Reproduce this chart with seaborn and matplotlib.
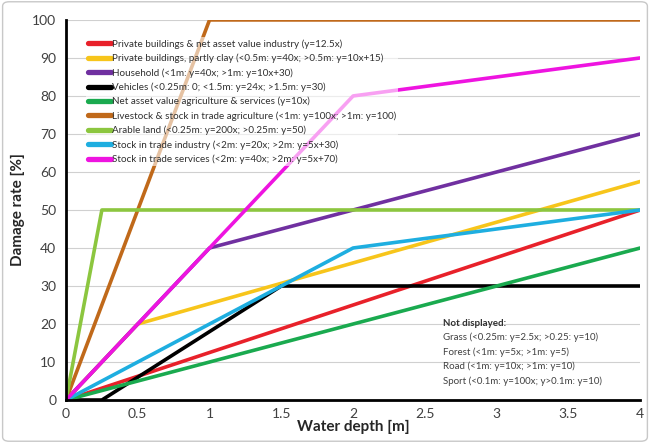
import matplotlib
matplotlib.use("Agg")
import matplotlib.pyplot as plt
import seaborn as sns
import pandas as pd
from matplotlib.patches import FancyBboxPatch

sns.set_theme(style="white")
plt.rcParams['font.family'] = ['Lato', 'DejaVu Sans']

labels = [
    "Private buildings & net asset value industry (y=12.5x)",
    "Private buildings, partly clay (<0.5m: y=40x; >0.5m: y=10x+15)",
    "Household (<1m: y=40x; >1m: y=10x+30)",
    "Vehicles (<0.25m: 0; <1.5m: y=24x; >1.5m: y=30)",
    "Net asset value agriculture & services (y=10x)",
    "Livestock & stock in trade agriculture (<1m: y=100x; >1m: y=100)",
    "Arable land (<0.25m: y=200x; >0.25m: y=50)",
    "Stock in trade industry (<2m: y=20x; >2m: y=5x+30)",
    "Stock in trade services (<2m: y=40x; >2m: y=5x+70)",
]
colors = ["#e8212a", "#f7c51b", "#7030a0", "#000000", "#1aaa4f",
          "#c0691a", "#8cc63f", "#1eaee0", "#ee14e0"]

x_private = [0, 4]
y_private = [0, 50]
x_clay = [0, 0.5, 4]
y_clay = [0, 20, 57.5]
x_household = [0, 1, 4]
y_household = [0, 40, 70]
x_vehicles = [0, 0.25, 1.5, 4]
y_vehicles = [0, 0, 30, 30]
x_agri = [0, 4]
y_agri = [0, 40]
x_livestock = [0, 1, 4]
y_livestock = [0, 100, 100]
x_arable = [0, 0.25, 4]
y_arable = [0, 50, 50]
x_industry = [0, 2, 4]
y_industry = [0, 40, 50]
x_services = [0, 2, 4]
y_services = [0, 80, 90]

xs = [x_private, x_clay, x_household, x_vehicles, x_agri, x_livestock,
      x_arable, x_industry, x_services]
ys = [y_private, y_clay, y_household, y_vehicles, y_agri, y_livestock,
      y_arable, y_industry, y_services]

rows = []
for lab, xv, yv in zip(labels, xs, ys):
    for a, b in zip(xv, yv):
        rows.append({"depth": a, "damage": b, "series": lab})
df = pd.DataFrame(rows)

fig = plt.figure(figsize=(6.5, 4.43), dpi=100)
ax = fig.add_axes([0.1015, 0.097, 0.8835, 0.858])

border = FancyBboxPatch((0.004, 0.004), 0.992, 0.992, boxstyle="round,pad=0,rounding_size=0.01",
                        transform=fig.transFigure, facecolor="none", edgecolor="#c8c8c8",
                        linewidth=1.0)
fig.patches.append(border)

sns.lineplot(data=df, x="depth", y="damage", hue="series", hue_order=labels,
             palette=dict(zip(labels, colors)), linewidth=2.6, ax=ax,
             estimator=None, sort=False)

ax.set_xlim(0, 4)
ax.set_ylim(0, 100)
ax.set_xticks([0, 0.5, 1, 1.5, 2, 2.5, 3, 3.5, 4])
ax.set_xticklabels(["0", "0.5", "1", "1.5", "2", "2.5", "3", "3.5", "4"])
ax.set_yticks(range(0, 101, 10))
ax.tick_params(axis="both", labelsize=10, labelcolor="#404040", color="black",
               direction="out", length=5, width=1.5, pad=2)
ax.tick_params(axis="x", pad=1)
ax.yaxis.grid(True, color="#d0d0d0", linewidth=0.8)
ax.xaxis.grid(False)
ax.set_axisbelow(True)
for s in ["top", "right"]:
    ax.spines[s].set_visible(False)
for s in ["left", "bottom"]:
    ax.spines[s].set_color("black")
    ax.spines[s].set_linewidth(2.0)

ax.set_xlabel("Water depth [m]", fontsize=11, fontweight="bold", labelpad=0)
ax.set_ylabel("Damage rate [%]", fontsize=11, fontweight="bold", labelpad=5)

leg = ax.legend(loc="upper left", bbox_to_anchor=(0.035, 0.955), frameon=True,
                fontsize=7.1, handlelength=2.3, handletextpad=0.1,
                labelspacing=0.5, borderaxespad=0, borderpad=0.2)
leg.get_frame().set_facecolor("white")
leg.get_frame().set_alpha(0.6)
leg.get_frame().set_edgecolor("none")
for h in leg.get_lines():
    h.set_linewidth(3.8)
for t in leg.get_texts():
    t.set_color("#303030")

ax.text(0.657, 0.195, "Not displayed:", transform=ax.transAxes, fontsize=7.0,
        fontweight="bold", color="#303030")
notes = ["Grass (<0.25m: y=2.5x; >0.25: y=10)",
         "Forest (<1m: y=5x; >1m: y=5)",
         "Road (<1m: y=10x; >1m: y=10)",
         "Sport (<0.1m: y=100x; y>0.1m: y=10)"]
for i, n in enumerate(notes):
    ax.text(0.657, 0.157 - i * 0.038, n, transform=ax.transAxes, fontsize=7.0,
            color="#404040")

fig.savefig("out.png", dpi=100)
